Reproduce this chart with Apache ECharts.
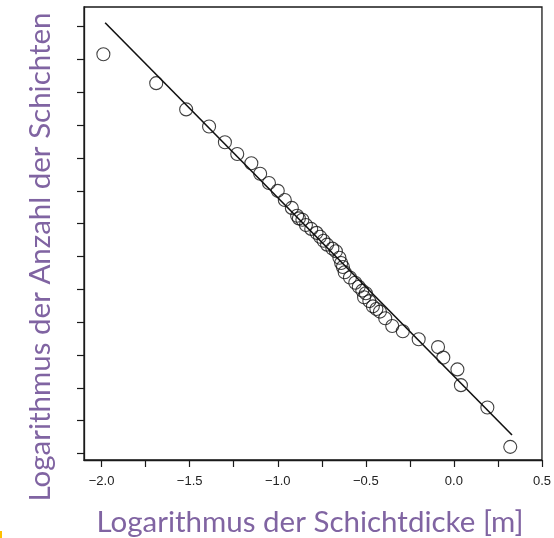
<!DOCTYPE html>
<html>
<head>
<meta charset="utf-8">
<script src="https://cdn.jsdelivr.net/npm/echarts@6/dist/echarts.min.js"></script>
<style>
  html, body { margin: 0; padding: 0; background: #fff; }
  #chart { width: 554px; height: 538px; }
</style>
</head>
<body>
<div id="chart"></div>
<script>
// log thickness (x) vs log number of layers (y)
const pointX = [
  -1.99, -1.69, -1.52, -1.39, -1.30, -1.23, -1.15, -1.10, -1.05, -1.00,
  -0.96, -0.92, -0.89, -0.88, -0.86, -0.84, -0.81, -0.78, -0.76, -0.74,
  -0.72, -0.69, -0.67, -0.65, -0.64, -0.63, -0.62, -0.59, -0.56, -0.54,
  -0.52, -0.51, -0.50, -0.48, -0.46, -0.44, -0.42, -0.39, -0.35, -0.29,
  -0.20, -0.09, -0.06, 0.02, 0.04, 0.19, 0.32
];
const pointY = [
  3.04, 2.82, 2.62, 2.49, 2.37, 2.28, 2.21, 2.13, 2.06, 2.00,
  1.93, 1.87, 1.81, 1.79, 1.78, 1.74, 1.71, 1.68, 1.65, 1.62,
  1.59, 1.56, 1.54, 1.49, 1.45, 1.42, 1.38, 1.34, 1.30, 1.27,
  1.24, 1.19, 1.22, 1.16, 1.12, 1.10, 1.08, 1.03, 0.97, 0.93,
  0.87, 0.81, 0.73, 0.64, 0.52, 0.35, 0.05
];
// fitted line end points
const lineX = [-1.98, 0.33];
const lineY = [3.28, 0.14];

const xTicks = [-2.0, -1.75, -1.5, -1.25, -1.0, -0.75, -0.5, -0.25, 0.0, 0.25, 0.5];
const xLabels = [-2.0, -1.5, -1.0, -0.5, 0.0, 0.5];
const yTicks = [0, 0.25, 0.5, 0.75, 1.0, 1.25, 1.5, 1.75, 2.0, 2.25, 2.5, 2.75, 3.0, 3.25];

const xTitle = 'Logarithmus der Schichtdicke [m]';
const yTitle = 'Logarithmus der Anzahl der Schichten';

const chart = echarts.init(document.getElementById('chart'));

const purple = '#8064A2';

const option = {
  animation: false,
  backgroundColor: '#fff',
  grid: {
    left: 84, right: 11, top: 7, bottom: 78,
    show: true, borderColor: '#1a1a1a', borderWidth: 1.3
  },
  xAxis: {
    type: 'value',
    min: -2.1, max: 0.5,
    splitLine: { show: false },
    axisLine: { onZero: false, lineStyle: { color: '#1a1a1a', width: 1.3 } },
    axisTick: { show: true, length: 7, customValues: xTicks, lineStyle: { color: '#1a1a1a', width: 1.2 } },
    axisLabel: {
      customValues: xLabels,
      margin: 15,
      color: '#222',
      fontFamily: 'Liberation Sans, Arial, sans-serif',
      fontSize: 13,
      formatter: (v) => (v < 0 ? '\u2212' : '') + Math.abs(v).toFixed(1)
    }
  },
  yAxis: {
    type: 'value',
    min: -0.05, max: 3.4,
    splitLine: { show: false },
    axisLine: { onZero: false, lineStyle: { color: '#1a1a1a', width: 1.3 } },
    axisTick: { show: true, length: 7, customValues: yTicks, lineStyle: { color: '#1a1a1a', width: 1.2 } },
    axisLabel: { show: false }
  },
  graphic: [
    {
      type: 'text', x: 310, y: 522,
      style: {
        text: xTitle, fill: purple,
        font: '29.5px Lato, sans-serif',
        textAlign: 'center', textVerticalAlign: 'middle'
      }
    },
    {
      type: 'text', x: 40, y: 257, rotation: Math.PI / 2,
      style: {
        text: yTitle, fill: purple,
        font: '29.5px Lato, sans-serif',
        textAlign: 'center', textVerticalAlign: 'middle'
      }
    },
    {
      type: 'rect', shape: { x: 0, y: 531, width: 2, height: 7 },
      style: { fill: '#FFC000' }
    }
  ],
  series: [
    {
      type: 'line',
      data: lineX.map((x, i) => [x, lineY[i]]),
      symbol: 'none',
      lineStyle: { color: '#111', width: 1.6 },
      z: 2
    },
    {
      type: 'scatter',
      data: pointX.map((x, i) => [x, pointY[i]]),
      symbol: 'circle',
      symbolSize: 13,
      itemStyle: { color: 'rgba(0,0,0,0)', borderColor: '#111', borderWidth: 1.1 },
      z: 3
    }
  ]
};

chart.setOption(option);
</script>
</body>
</html>
